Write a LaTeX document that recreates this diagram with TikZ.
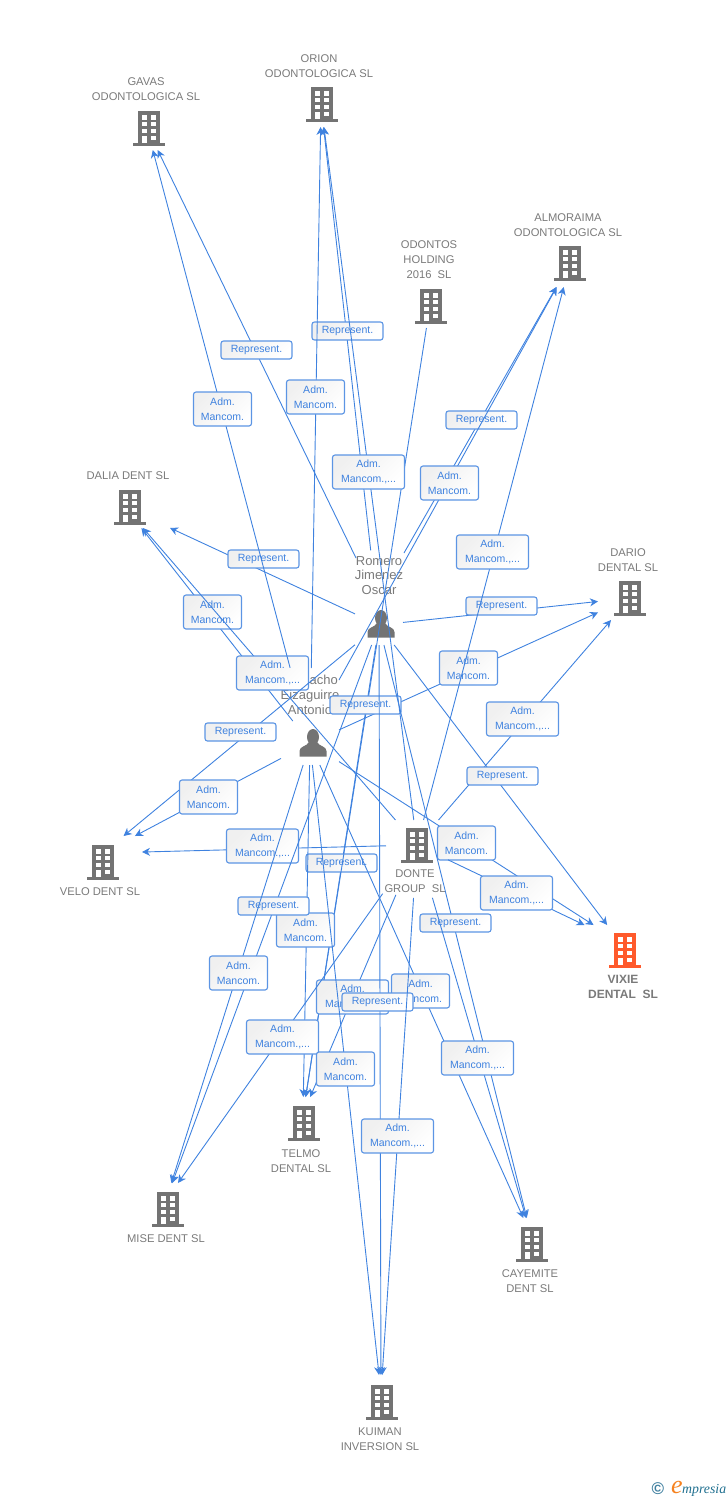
\documentclass[tikz,border=0pt]{standalone}
\usepackage{fontspec}
\setmainfont{Liberation Sans}
\newfontfamily\logofont{Liberation Serif}
\usetikzlibrary{arrows.meta}
\definecolor{linkblue}{HTML}{3F82DF}
\definecolor{namegray}{HTML}{7A7A7A}
\definecolor{icongray}{HTML}{737373}
\definecolor{iconred}{HTML}{FF5A2C}
\definecolor{logoblue}{HTML}{3F7F9F}
\definecolor{logoteal}{HTML}{1F6F8F}
\definecolor{logoorange}{HTML}{F58220}
\tikzset{
 pics/building/.style={code={
  \fill [#1] (-11,-17) rectangle (11,16);
  \fill [#1] (-16,15) rectangle (16,17.5);
  \fill [white] (-7,-13) rectangle (-2,-8.5);
  \fill [white] (2,-13) rectangle (7,-8.5);
  \fill [white] (-7,-6) rectangle (-2,-2);
  \fill [white] (2,-6) rectangle (7,-2);
  \fill [white] (-7,1) rectangle (-2,5);
  \fill [white] (2,1) rectangle (7,5);
  \fill [white] (-7,7.5) rectangle (-2,15);
  \fill [white] (2,7.5) rectangle (7,12);
 }},
 pics/person/.style={code={
  \fill [icongray] (0,-6) ellipse (6 and 8);
  \fill [icongray] (-13.5,13.5) -- (-13.5,8) .. controls (-13.5,3) and (-6,3.5) .. (-4,-1) -- (4,-1) .. controls (6,3.5) and (13.5,3) .. (13.5,8) -- (13.5,13.5) -- cycle;
 }},
 hub/.style={inner sep=0pt,outer sep=0pt},
 firm/.style={font=\fontsize{11.2}{15}\selectfont,text=namegray,align=center,inner sep=0pt,yshift=-1pt},
 people/.style={font=\fontsize{13}{14.7}\selectfont,text=namegray,align=center,inner sep=0pt},
 link/.style={draw=linkblue,line width=0.9pt,-{Stealth[length=8pt,width=8pt,inset=2.5pt]}},
 tag/.style={draw=linkblue!85,line width=1.1pt,rounded corners=2.5pt,top color=black!6,bottom color=white,shading angle=45,text=linkblue,align=center,inner sep=0pt,font=\fontsize{10.5}{15}\selectfont,xshift=0.5pt,yshift=-1pt},
 tagrep/.style={tag,minimum width=71pt,minimum height=18pt},
 tagadm/.style={tag,minimum width=58pt,minimum height=34pt},
 tagmore/.style={tag,minimum width=72pt,minimum height=34pt},
}
\begin{document}
\begin{tikzpicture}[x=1pt,y=-1pt]
\useasboundingbox (0,0) rectangle (728,1500);

% invisible boxes the connectors stop at
\node [hub,minimum width=110pt,minimum height=44pt] (gavas) at (147,128) {};
\node [hub,minimum width=110pt,minimum height=46pt] (orion) at (321,104) {};
\node [hub,minimum width=110pt,minimum height=48pt] (almoraima) at (570,263) {};
\node [hub,minimum width=60pt,minimum height=46pt] (odontos) at (430,305) {};
\node [hub,minimum width=90pt,minimum height=42pt] (dalia) at (125,507) {};
\node [hub,minimum width=64pt,minimum height=44pt] (dario) at (630,598) {};
\node [hub,minimum width=78pt,minimum height=34pt] (velo) at (103,853) {};
\node [hub,minimum width=74pt,minimum height=34pt] (vixie) at (620,942) {};
\node [hub,minimum width=60pt,minimum height=34pt] (telmo) at (303,1114) {};
\node [hub,minimum width=80pt,minimum height=34pt] (mise) at (166,1200) {};
\node [hub,minimum width=60pt,minimum height=34pt] (cayemite) at (531,1235) {};
\node [hub,minimum width=80pt,minimum height=36pt] (kuiman) at (381,1393) {};
\node [hub,minimum width=48pt,minimum height=40pt] (romero) at (379,625) {};
\node [hub,minimum width=58pt,minimum height=44pt] (camacho) at (310,743) {};
\node [hub,minimum width=62pt,minimum height=50pt] (donte) at (417,845) {};
\coordinate (romeroup) at (404,553);
\coordinate (romeroleft) at (356,558);
\coordinate (camachoup) at (339,680);

% icons and names
\pic at (149,128) {building=icongray};
\pic at (322,104) {building=icongray};
\pic at (570,263) {building=icongray};
\pic at (431,306) {building=icongray};
\pic at (130,507) {building=icongray};
\pic at (630,598) {building=icongray};
\pic at (103,862) {building=icongray};
\pic at (625,950) {building=iconred};
\pic at (304,1123) {building=icongray};
\pic at (168,1209) {building=icongray};
\pic at (532,1244) {building=icongray};
\pic at (382,1402) {building=icongray};
\pic at (417,845) {building=icongray};
\pic at (381,624) {person};
\pic at (313,743) {person};

\node [firm] (gavasname) at (146,88.5) {GAVAS\\ODONTOLOGICA SL};
\node [firm] (orionname) at (319,65.5) {ORION\\ODONTOLOGICA SL};
\node [firm] (almoraimaname) at (568,224.5) {ALMORAIMA\\ODONTOLOGICA SL};
\node [firm] (odontosname) at (429,259) {ODONTOS\\HOLDING\\2016\ \ SL};
\node [firm] (dalianame) at (128,475) {DALIA DENT SL};
\node [firm] (darioname) at (628,559.5) {DARIO\\DENTAL SL};
\node [firm] (veloname) at (100,891) {VELO DENT SL};
\node [firm,font=\fontsize{12}{15}\selectfont\bfseries] (vixiename) at (623,985.5) {VIXIE\\DENTAL\ \ SL};
\node [firm] (telmoname) at (301,1160) {TELMO\\DENTAL SL};
\node [firm] (misename) at (166,1238) {MISE DENT SL};
\node [firm] (cayemitename) at (530,1280) {CAYEMITE\\DENT SL};
\node [firm] (kuimanname) at (380,1438) {KUIMAN\\INVERSION SL};
\node [firm] (dontename) at (415,880) {DONTE\\GROUP\ \ SL};
\node [people] (romeroname) at (379,575.5) {Romero\\Jimenez\\Oscar};
\node [people] (camachoname) at (310,695) {Camacho\\Eizaguirre\\Antonio};

% connectors, each with its tag on top
\draw [link] (romero) -- (dalia);
\node [tagrep] (romerodalia) at (263,558) {Represent.};
\draw [link] (camacho) -- (dalia);
\node [tagadm] (camachodalia) at (212,611) {Adm.\\Mancom.};
\draw [link] (donte) -- (dalia);
\node [tagmore] (dontedalia) at (272,672) {Adm.\\Mancom.,...};

\draw [link] (romero) -- (velo);
\node [tagrep] (romerovelo) at (240,731) {Represent.};
\draw [link] (camacho) -- (velo);
\node [tagadm] (camachovelo) at (208,796) {Adm.\\Mancom.};
\draw [link] (donte) -- (velo);
\node [tagmore] (dontevelo) at (262,845) {Adm.\\Mancom.,...};

\draw [link] (romero) -- (dario);
\node [tagrep] (romerodario) at (501,605) {Represent.};
\draw [link] (camacho) -- (dario);
\node [tagadm] (camachodario) at (468,667) {Adm.\\Mancom.};
\draw [link] (donte) -- (dario);
\node [tagmore] (dontedario) at (522,718) {Adm.\\Mancom.,...};

\draw [link] (romero) -- (vixie);
\node [tagrep] (romerovixie) at (502,775) {Represent.};
\draw [link] (camacho) -- (vixie);
\node [tagadm] (camachovixie) at (466,842) {Adm.\\Mancom.};
\draw [link] (donte) -- (vixie);
\node [tagmore] (dontevixie) at (516,892) {Adm.\\Mancom.,...};

\draw [link] (romero) -- (telmo);
\node [tagrep] (romerotelmo) at (341,862) {Represent.};
\draw [link] (odontos) -- (telmo);
\node [tagrep] (odontostelmo) at (365,704) {Represent.};
\draw [link] (camacho) -- (telmo);
\node [tagadm] (camachotelmo) at (305,929) {Adm.\\Mancom.};
\draw [link,shorten <=27pt] (donte) -- (telmo);
\node [tagmore] (dontetelmo) at (352,996) {Adm.\\Mancom.,...};

\draw [link] (romero) -- (cayemite);
\node [tagrep] (romerocayemite) at (455,922) {Represent.};
\draw [link] (camacho) -- (cayemite);
\node [tagadm] (camachocayemite) at (420,990) {Adm.\\Mancom.};
\draw [link,shorten <=29pt] (donte) -- (cayemite);
\node [tagmore] (dontecayemite) at (477,1057) {Adm.\\Mancom.,...};

\draw [link] (romero) -- (mise);
\node [tagrep] (romeromise) at (273,905) {Represent.};
\draw [link] (camacho) -- (mise);
\node [tagadm] (camachomise) at (238,972) {Adm.\\Mancom.};
\draw [link,shorten <=29pt] (donte) -- (mise);
\node [tagmore] (dontemise) at (282,1036) {Adm.\\Mancom.,...};

\draw [link] (romero) -- (kuiman);
\node [tagrep] (romerokuiman) at (377,1001) {Represent.};
\draw [link] (camacho) -- (kuiman);
\node [tagadm] (camachokuiman) at (345,1068) {Adm.\\Mancom.};
\draw [link,shorten <=28pt] (donte) -- (kuiman);
\node [tagmore] (dontekuiman) at (397,1135) {Adm.\\Mancom.,...};

\draw [link,shorten <=55pt] (romero) -- (orion);
\node [tagrep] (romeroorion) at (347,330) {Represent.};
\draw [link,shorten <=53pt] (camacho) -- (orion);
\node [tagadm] (camachoorion) at (315,396) {Adm.\\Mancom.};
\draw [link] (donte) -- (orion);
\node [tagmore] (donteorion) at (368,471) {Adm.\\Mancom.,...};

\draw [link] (romeroleft) -- (gavas);
\node [tagrep] (romerogavas) at (256,349) {Represent.};
\draw [link,shorten <=55pt] (camacho) -- (gavas);
\node [tagadm] (camachogavas) at (222,408) {Adm.\\Mancom.};

\draw [link] (romeroup) -- (almoraima);
\node [tagrep] (romeroalmoraima) at (481,419) {Represent.};
\draw [link] (camachoup) -- (almoraima);
\node [tagadm] (camachoalmoraima) at (449,482) {Adm.\\Mancom.};
\draw [link] (donte) -- (almoraima);
\node [tagmore] (dontealmoraima) at (492,551) {Adm.\\Mancom.,...};

% logo
\node [text=logoblue,font=\bfseries\fontsize{17}{17}\selectfont,inner sep=0pt] (copymark) at (658,1489) {\textcopyright};
\node [text=logoorange,font=\logofont\itshape\fontsize{26}{26}\selectfont,inner sep=0pt] (logoe) at (677,1487) {e};
\node [text=logoteal,font=\logofont\itshape\fontsize{13.8}{14}\selectfont,inner sep=0pt,anchor=west] (logotext) at (682,1490) {mpresia};
\end{tikzpicture}
\end{document}
